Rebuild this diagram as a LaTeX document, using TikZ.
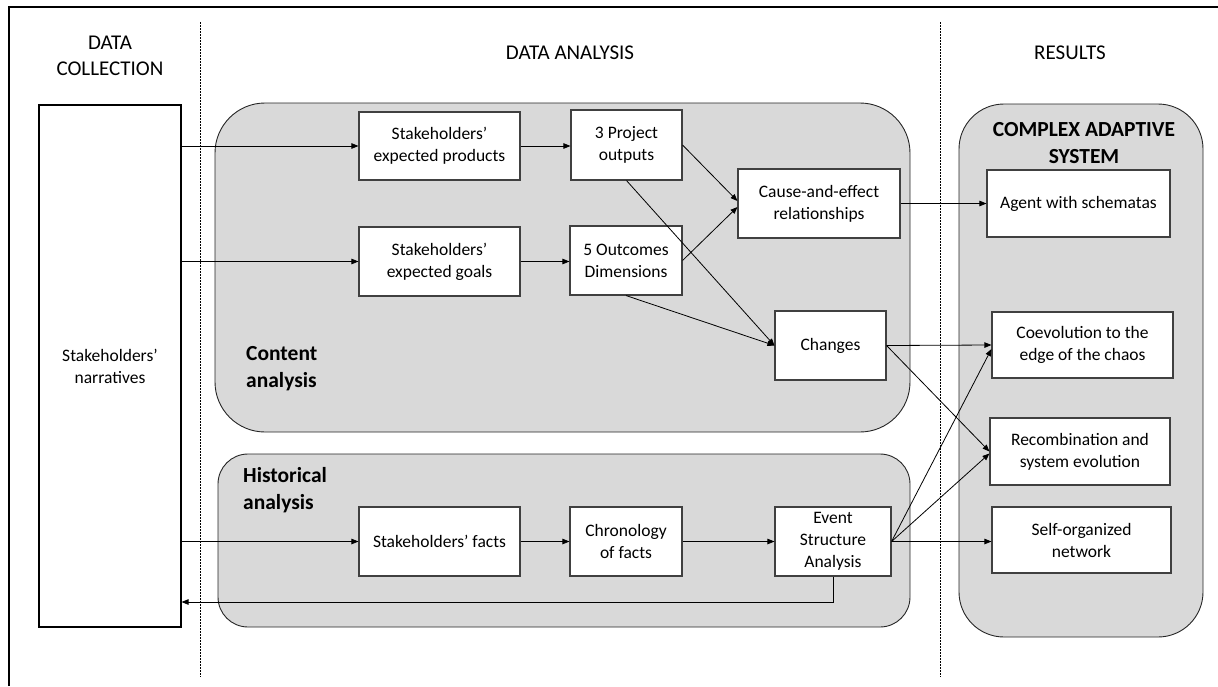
\documentclass[tikz,border=0pt]{standalone}
\usepackage{fontspec}
\setmainfont{Carlito}
\usetikzlibrary{arrows.meta}
\definecolor{panelgray}{HTML}{D9D9D9}
\definecolor{edgegray}{HTML}{404040}
\begin{document}
\begin{tikzpicture}[x=1pt,y=-1pt,
  box/.style={draw=edgegray, line width=1.1pt, fill=white, align=center, inner sep=0pt, font=\fontsize{17.5}{22}\selectfont},
  panel/.style={draw=black!85, line width=0.9pt, fill=panelgray, inner sep=0pt},
  arr/.style={-{Triangle[length=7pt,width=5.5pt]}, line width=0.8pt},
  hdr/.style={font=\fontsize{21}{25.5}\selectfont, align=center, inner sep=0pt},
  lbl/.style={font=\fontsize{21.5}{27}\selectfont\bfseries, inner sep=0pt},
  divider/.style={dash pattern=on 1.6pt off 1.4pt, line width=0.7pt}]
\useasboundingbox (0,0) rectangle (1218,686);
% frame
\draw[line width=1.2pt] (9,686) -- (9,7) -- (1218,7);
% dividers
\draw[divider] (200,22) -- (200,677);
\draw[divider] (940,22) -- (940,677);
% headers
\node[hdr] (h1) at (110,56) {DATA\\COLLECTION};
\node[hdr] (h2) at (570,53) {DATA ANALYSIS};
\node[hdr] (h3) at (1070,53) {RESULTS};
% panels
\node[panel, rounded corners=50pt, minimum width=695pt, minimum height=329pt] (content) at (562.5,267.5) {};
\node[panel, rounded corners=30pt, minimum width=692pt, minimum height=173pt] (hist) at (564,540.5) {};
\node[panel, rounded corners=45pt, minimum width=244pt, minimum height=533pt] (cas) at (1081,370.5) {};
\node[lbl, align=left, anchor=west] (clbl) at (246,369) {Content\\analysis};
\node[lbl, align=left, anchor=west] (hlbl) at (243,490) {Historical\\analysis};
\node[lbl, align=center] (caslbl) at (1084,143) {COMPLEX ADAPTIVE\\SYSTEM};
% narratives
\node[box, draw=black, minimum width=142pt, minimum height=522pt] (narr) at (110,366) {Stakeholders’\\narratives};
% data analysis boxes
\node[box, minimum width=161pt, minimum height=68pt] (prod) at (439.5,146) {Stakeholders’\\expected products};
\node[box, minimum width=111pt, minimum height=70pt] (po3) at (626.5,145) {3 Project\\outputs};
\node[box, minimum width=161pt, minimum height=69pt] (goals) at (439.5,261.5) {Stakeholders’\\expected goals};
\node[box, minimum width=112pt, minimum height=69pt] (od5) at (626,260.5) {5 Outcomes\\Dimensions};
\node[box, minimum width=162pt, minimum height=69pt] (cause) at (819,203.5) {Cause-and-effect\\relationships};
\node[box, minimum width=111pt, minimum height=69pt] (changes) at (830.5,345.5) {Changes};
\node[box, minimum width=161pt, minimum height=69pt] (facts) at (439.5,541.5) {Stakeholders’ facts};
\node[box, minimum width=112pt, minimum height=69pt] (chron) at (626,541.5) {Chronology\\of facts};
\node[box, minimum width=116pt, minimum height=69pt] (esa) at (833,541.5) {Event\\Structure\\Analysis};
% results boxes
\node[box, minimum width=183pt, minimum height=67pt] (agent) at (1078.5,203.5) {Agent with schematas};
\node[box, minimum width=181pt, minimum height=66pt] (coev) at (1082.5,345) {Coevolution to the\\edge of the chaos};
\node[box, minimum width=180pt, minimum height=67pt] (recomb) at (1080,451.5) {Recombination and\\system evolution};
\node[box, minimum width=179pt, minimum height=66pt] (selforg) at (1081.5,540) {Self-organized\\network};
% connectors
\coordinate (fb) at (0,602);
\draw[arr] (narr.east |- prod.west) -- (prod.west);
\draw[arr] (narr.east |- goals.west) -- (goals.west);
\draw[arr] (narr.east |- facts.west) -- (facts.west);
\draw[arr] (prod.east) -- (prod.east -| po3.west);
\draw[arr] (goals.east) -- (goals.east -| od5.west);
\draw[arr] (po3.east) -- ([yshift=2.5pt]cause.west);
\draw[arr] (od5.east) -- ([yshift=-3.5pt]cause.west);
\draw[arr] (po3.south) -- (changes.west);
\draw[arr] (od5.south) -- (changes.west);
\draw[arr] (cause.east) -- (agent.west);
\draw[arr] (changes.east) -- (coev.west);
\draw[arr] (changes.east) -- (recomb.west);
\draw[arr] (facts.east) -- (chron.west);
\draw[arr] (chron.east) -- (esa.west);
\draw[arr] (esa.east) -- ([yshift=-4pt]coev.west);
\draw[arr] (esa.east) -- ([yshift=-2pt]recomb.west);
\draw[arr] (esa.east) -- (esa.east -| selforg.west);
\draw[arr] (esa.south) |- (narr.east |- fb);
\end{tikzpicture}
\end{document}
